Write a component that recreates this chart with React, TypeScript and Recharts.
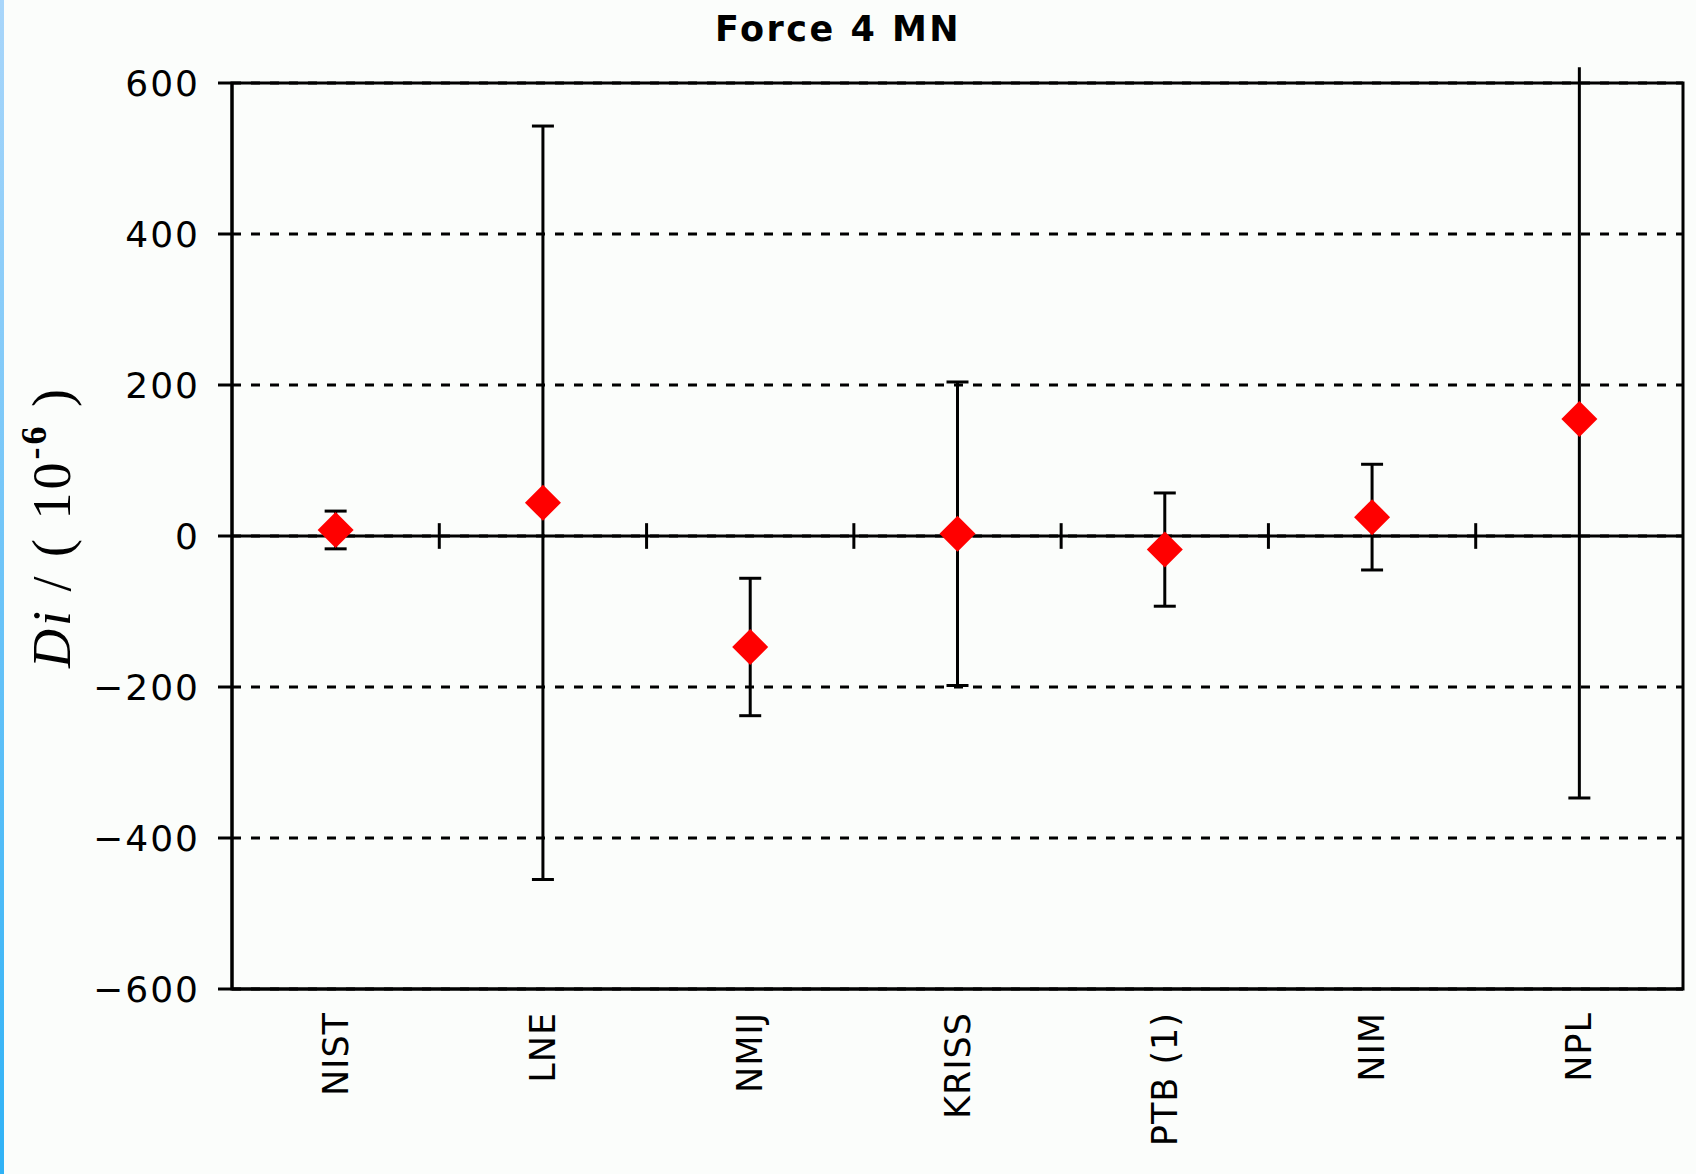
import { ComposedChart, Scatter, ErrorBar, XAxis, YAxis, CartesianGrid, ReferenceLine, ReferenceArea } from "recharts";

const labs = ["NIST", "LNE", "NMIJ", "KRISS", "PTB (1)", "NIM", "NPL"];
const di = [8, 44, -147, 3, -18, 25, 155];
// uncertainty below / above the point (NPL's upper bar runs off the chart, no cap)
const uncLo = [25, 499, 91, 201, 75, 70, 502];
const uncHi = [25, 499, 91, 201, 75, 70, 466];
const openTop = [false, false, false, false, false, false, true];
const yTicks = [-600, -400, -200, 0, 200, 400, 600];

const rows = labs.map((name, i) => ({
  x: i + 0.5,
  name,
  di: di[i],
  unc: uncLo[i],
  lo: [uncLo[i], 0],
  hi: [0, uncHi[i]],
}));
const capped = rows.filter((_, i) => !openTop[i]);
const open = rows.filter((_, i) => openTop[i]);
const centers = rows.map((d) => d.x);
// category boundaries on the zero line
const bounds = labs.slice(1).map((_, i) => i + 1);

const font = "DejaVu Sans, sans-serif";

function Diamond(props: any) {
  const { cx, cy } = props;
  const r = 18;
  return (
    <polygon
      points={`${cx},${cy - r} ${cx + r},${cy} ${cx},${cy + r} ${cx - r},${cy}`}
      fill="#ff0000"
    />
  );
}

function XTick({ x, y, payload }: any) {
  const idx = centers.indexOf(payload.value);
  return (
    <text
      x={x}
      y={y}
      transform={`rotate(-90 ${x} ${y})`}
      textAnchor="end"
      dominantBaseline="central"
      fontFamily={font}
      fontSize={35}
      letterSpacing={1}
      fill="#000"
    >
      {labs[idx]}
    </text>
  );
}

function YLabel() {
  const x = 52;
  const y = 527;
  return (
    <text
      x={x}
      y={y}
      transform={`rotate(-90 ${x} ${y})`}
      textAnchor="middle"
      dominantBaseline="central"
      fontFamily="Liberation Serif, serif"
      fontSize={54}
      letterSpacing={3}
      fill="#000"
    >
      <tspan fontStyle="italic">Di</tspan>
      <tspan>{"  /  ( 10"}</tspan>
      <tspan fontSize={36} dy={-18} fontWeight="bold">-6</tspan>
      <tspan dy={18}>{" )"}</tspan>
    </text>
  );
}

export default function App() {
  return (
    <div
      style={{
        position: "absolute",
        left: 0,
        top: 0,
        width: 1696,
        height: 1174,
        background: "#fbfdfb",
        overflow: "hidden",
      }}
    >
      <div
        style={{
          position: "absolute",
          left: 0,
          top: 0,
          width: 4,
          height: 1174,
          background: "linear-gradient(#a9d6fa, #2fb2f6)",
        }}
      />
      <div
        style={{
          position: "absolute",
          left: 0,
          top: 9,
          width: 1676,
          textAlign: "center",
          fontFamily: font,
          fontWeight: "bold",
          fontSize: 35,
          letterSpacing: 2.5,
          lineHeight: "40px",
          color: "#000",
        }}
      >
        Force 4 MN
      </div>
      <ComposedChart
        width={1696}
        height={1174}
        margin={{ top: 83, right: 13, left: 132, bottom: 35 }}
      >
        <CartesianGrid
          horizontal
          vertical={false}
          stroke="#000"
          strokeWidth={3}
          strokeDasharray="9 10"
        />
        <XAxis
          dataKey="x"
          type="number"
          domain={[0, 7]}
          ticks={centers}
          interval={0}
          height={150}
          tick={<XTick />}
          tickLine={false}
          tickSize={0}
          tickMargin={23}
          axisLine={{ stroke: "#000", strokeWidth: 3 }}
        />
        <YAxis
          type="number"
          domain={[-600, 600]}
          ticks={yTicks}
          allowDataOverflow
          width={100}
          tickSize={14}
          tickMargin={18}
          tickFormatter={(v: number) => String(v).replace("-", "\u2212")}
          tick={{ fill: "#000", fontSize: 36, fontFamily: font, letterSpacing: 2 }}
          tickLine={{ stroke: "#000", strokeWidth: 3 }}
          axisLine={{ stroke: "#000", strokeWidth: 3 }}
          label={<YLabel />}
        />
        <ReferenceArea
          x1={0}
          x2={7}
          y1={-600}
          y2={600}
          fill="none"
          fillOpacity={0}
          stroke="#000"
          strokeWidth={3}
        />
        <ReferenceLine y={0} stroke="#000" strokeWidth={3} />
        {bounds.map((b) => (
          <ReferenceLine
            key={b}
            segment={[
              { x: b, y: -17 },
              { x: b, y: 17 },
            ]}
            stroke="#000"
            strokeWidth={3}
          />
        ))}
        <Scatter data={capped} dataKey="di" shape={<Diamond />} isAnimationActive={false}>
          <ErrorBar dataKey="unc" direction="y" width={11} stroke="#000" strokeWidth={3} />
        </Scatter>
        <Scatter data={open} dataKey="di" shape={<Diamond />} isAnimationActive={false}>
          <ErrorBar dataKey="hi" direction="y" width={0} stroke="#000" strokeWidth={3} />
          <ErrorBar dataKey="lo" direction="y" width={11} stroke="#000" strokeWidth={3} />
        </Scatter>
      </ComposedChart>
    </div>
  );
}
